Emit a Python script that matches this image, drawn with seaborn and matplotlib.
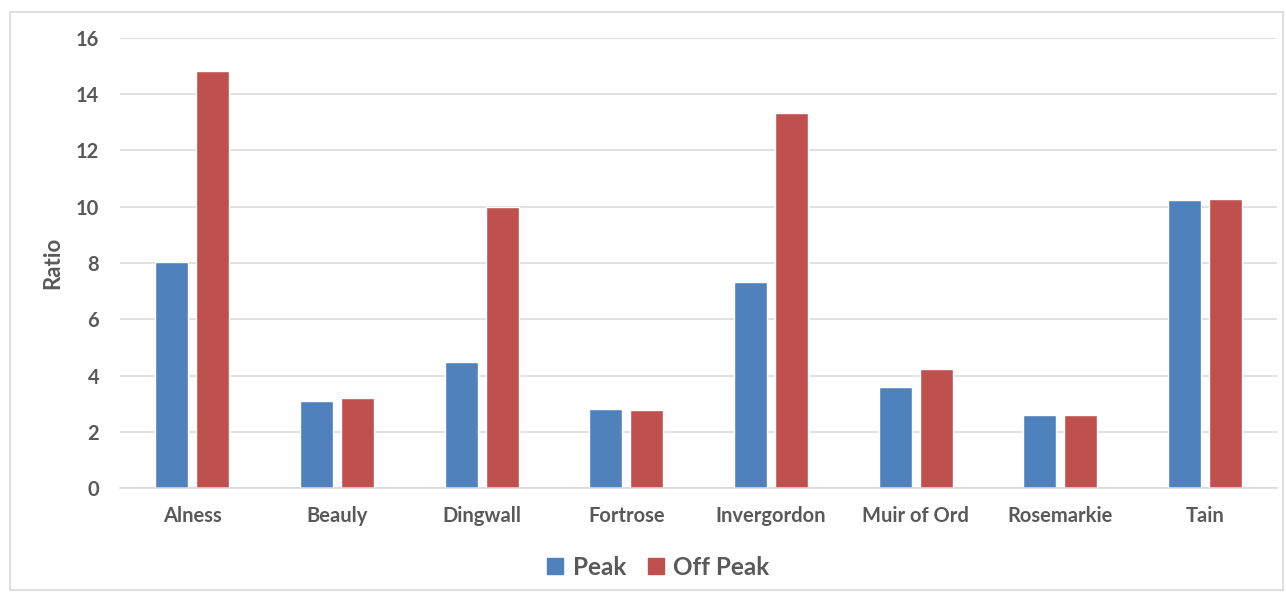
import matplotlib
matplotlib.use("Agg")
import matplotlib.pyplot as plt
import pandas as pd
import seaborn as sns
from matplotlib.patches import Rectangle

towns = ["Alness", "Beauly", "Dingwall", "Fortrose", "Invergordon",
         "Muir of Ord", "Rosemarkie", "Tain"]
peak = [8.03, 3.09, 4.47, 2.80, 7.31, 3.58, 2.59, 10.23]
off_peak = [14.81, 3.19, 9.98, 2.77, 13.33, 4.22, 2.59, 10.27]
series = ["Peak", "Off Peak"]
colors = ["#4F81BD", "#C0504D"]

df = pd.DataFrame({
    "town": towns * 2,
    "ratio": peak + off_peak,
    "series": [series[0]] * len(towns) + [series[1]] * len(towns),
})

sns.set_style("white")
plt.rcParams["font.family"] = ["Lato", "DejaVu Sans"]
text_col = "#595959"

fig = plt.figure(figsize=(12.86, 5.94), dpi=100)
ax = fig.add_axes([0.0933, 0.178, 0.9, 0.7585])

sns.barplot(data=df, x="town", y="ratio", hue="series", order=towns,
            hue_order=series, palette=colors, width=0.57, gap=0.2,
            saturation=1, ax=ax)

ax.set_ylim(0, 16)
ax.set_xlim(-0.5, 7.5)
ax.set_yticks(range(0, 17, 2))
ax.yaxis.grid(True, color="#d9d9d9", linewidth=1.1)
ax.set_axisbelow(True)
for s in ["top", "right", "left"]:
    ax.spines[s].set_visible(False)
ax.spines["bottom"].set_color("#d9d9d9")
ax.spines["bottom"].set_linewidth(1.1)
ax.tick_params(length=0, labelsize=14.5, labelcolor=text_col)
for lbl in ax.get_xticklabels() + ax.get_yticklabels():
    lbl.set_fontweight("bold")
ax.tick_params(axis="x", pad=13)
ax.tick_params(axis="y", pad=15)
ax.set_xlabel("")
ax.set_ylabel("Ratio", fontsize=16, fontweight="bold", color=text_col)
ax.yaxis.set_label_coords(-0.049, 0.5)

ax.legend_.remove()
handles = [Rectangle((0, 0), 1, 1, color=c) for c in colors]
fig.legend(handles, series, loc="center", bbox_to_anchor=(0.512, 0.045),
           ncol=2, frameon=False, handlelength=0.65, handleheight=0.65,
           handletextpad=0.4, columnspacing=0.9,
           prop={"size": 17.5, "weight": "bold"}, labelcolor=text_col)

fig.patches.append(Rectangle((10 / 1286, 4 / 594), 1273 / 1286, 578 / 594,
                             transform=fig.transFigure, fill=False,
                             edgecolor="#d9d9d9", linewidth=1.2))

fig.savefig("out.png", dpi=100)
